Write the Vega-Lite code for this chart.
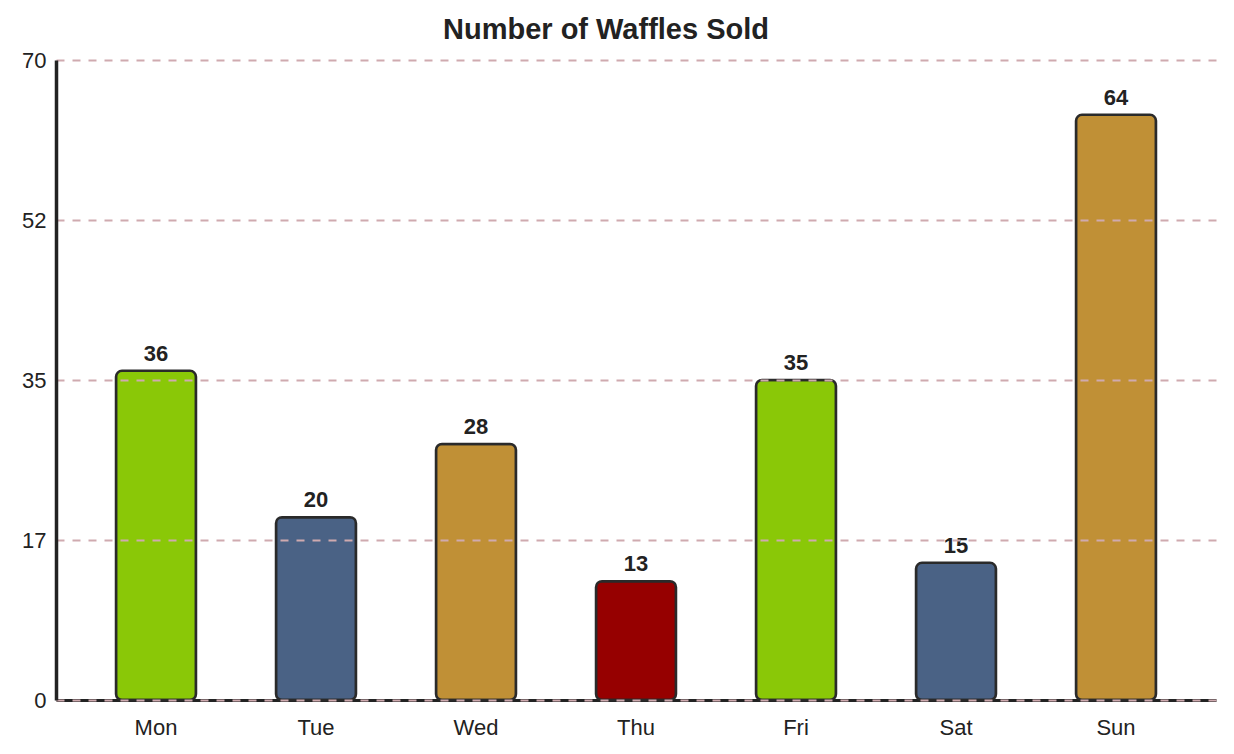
{
  "$schema": "https://vega.github.io/schema/vega-lite/v6.json",
  "autosize": {"type": "none"},
  "padding": {"left": 56, "top": 60, "right": 18, "bottom": 54},
  "width": 1160,
  "height": 640,
  "background": "white",
  "title": {
    "text": "Number of Waffles Sold",
    "font": "Liberation Sans",
    "fontSize": 29,
    "fontWeight": "bold",
    "color": "#222222",
    "anchor": "middle",
    "frame": "group",
    "dx": -30,
    "offset": 4
  },
  "data": {
    "values": [
      {"day": "Mon", "waffles": 36, "color": "#8AC807"},
      {"day": "Tue", "waffles": 20, "color": "#4A6285"},
      {"day": "Wed", "waffles": 28, "color": "#C09036"},
      {"day": "Thu", "waffles": 13, "color": "#960000"},
      {"day": "Fri", "waffles": 35, "color": "#8AC807"},
      {"day": "Sat", "waffles": 15, "color": "#4A6285"},
      {"day": "Sun", "waffles": 64, "color": "#C09036"}
    ]
  },
  "encoding": {
    "x": {
      "field": "day",
      "type": "nominal",
      "sort": null,
      "scale": {"paddingInner": 0.5, "paddingOuter": 0.375},
      "axis": {
        "title": null,
        "labelAngle": 0,
        "labelFont": "Liberation Sans",
        "labelFontSize": 22,
        "labelColor": "#222222",
        "labelPadding": 17,
        "ticks": false,
        "domainColor": "#222222",
        "domainWidth": 3,
        "zindex": 0
      }
    },
    "y": {
      "field": "waffles",
      "type": "quantitative",
      "scale": {"domain": [0, 70], "nice": false},
      "axis": {
        "title": null,
        "values": [0, 17.5, 35, 52.5, 70],
        "labelExpr": "floor(datum.value)",
        "labelFont": "Liberation Sans",
        "labelFontSize": 22,
        "labelColor": "#222222",
        "labelPadding": 10,
        "ticks": false,
        "domainColor": "#222222",
        "domainWidth": 3.5,
        "grid": true,
        "gridColor": "#CFAAAF",
        "gridWidth": 2,
        "gridDash": [8, 8],
        "zindex": 1
      }
    }
  },
  "layer": [
    {
      "mark": {
        "type": "bar",
        "cornerRadius": 6,
        "stroke": "#2a2a2a",
        "strokeWidth": 2.5
      },
      "encoding": {
        "color": {"field": "color", "type": "nominal", "scale": null}
      }
    },
    {
      "mark": {
        "type": "text",
        "baseline": "bottom",
        "dy": -5,
        "font": "Liberation Sans",
        "fontSize": 22,
        "fontWeight": "bold",
        "color": "#222222"
      },
      "encoding": {
        "text": {"field": "waffles", "type": "quantitative"}
      }
    }
  ],
  "config": {
    "view": {"stroke": null}
  }
}
